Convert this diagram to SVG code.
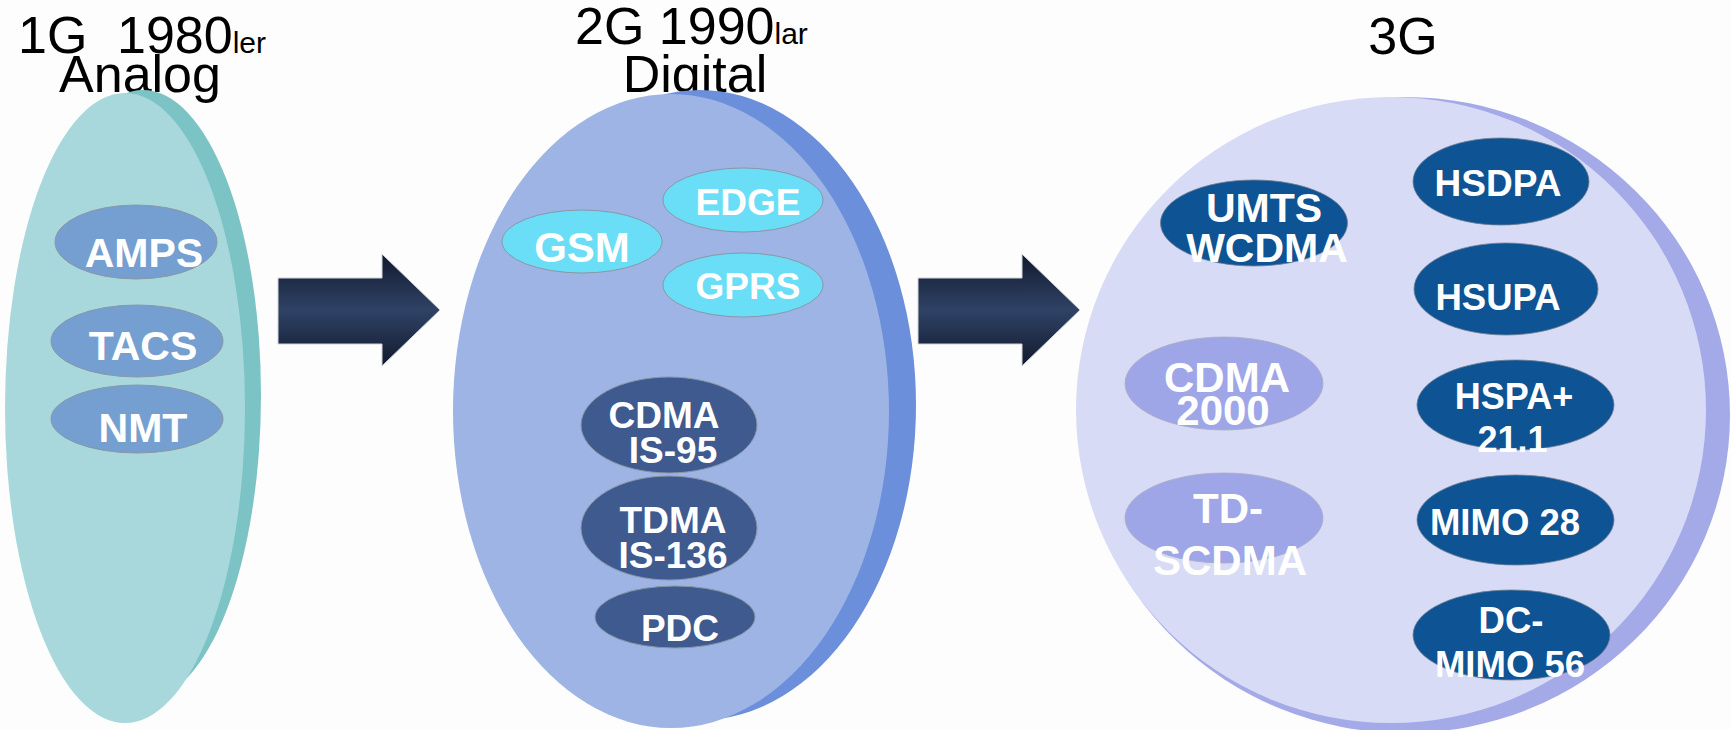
<svg xmlns="http://www.w3.org/2000/svg" width="1731" height="730" viewBox="0 0 1731 730">
  <style>
    .title { font-family: "Liberation Sans", Arial, sans-serif; fill: #000; font-size: 52px; }
    .small { font-size: 30px; }
    .lbl { font-family: "Liberation Sans", Arial, sans-serif; font-weight: bold; fill: #fff; text-anchor: middle; }
    .pill { stroke: #8a97a6; stroke-width: 1; }
    .g1 { fill: #749FD0; }
    .cyan { fill: #6ADDF7; }
    .navy { fill: #3E5A8E; }
    .blue3 { fill: #0E5394; stroke: #6f7f90; stroke-width: 0.8; }
    .lav { fill: #9EA6E8; stroke: #a9acc0; stroke-width: 0.8; }
  </style>
  <defs>
    <linearGradient id="arrowFill" x1="0" y1="0" x2="0" y2="1">
      <stop offset="0" stop-color="#121a2c"/>
      <stop offset="0.5" stop-color="#2f4266"/>
      <stop offset="1" stop-color="#121a2c"/>
    </linearGradient>
  </defs>

  <rect width="1731" height="730" fill="#fdfdfd"/>

  <!-- Generation titles -->
  <text class="title" y="53"><tspan x="18">1G</tspan><tspan x="117">1980</tspan><tspan class="small">ler</tspan></text>
  <text class="title" x="140" y="92" text-anchor="middle">Analog</text>
  <text class="title" y="44"><tspan x="575">2G 1990</tspan><tspan class="small">lar</tspan></text>
  <text class="title" x="695" y="92" text-anchor="middle">Digital</text>
  <text class="title" x="1403" y="54" text-anchor="middle">3G</text>

  <!-- 1G disc -->
  <g id="gen1">
    <ellipse cx="143" cy="395" rx="118" ry="305" fill="#7CC3C6"/>
    <ellipse cx="125" cy="408" rx="120" ry="315" fill="#A8D8DB"/>
    <g id="amps">
      <ellipse class="pill g1" cx="136" cy="242" rx="81" ry="37"/>
      <text class="lbl" x="144" y="267" font-size="41">AMPS</text>
    </g>
    <g id="tacs">
      <ellipse class="pill g1" cx="137" cy="341" rx="86" ry="36"/>
      <text class="lbl" x="143" y="360" font-size="41">TACS</text>
    </g>
    <g id="nmt">
      <ellipse class="pill g1" cx="137" cy="419" rx="86" ry="34"/>
      <text class="lbl" x="143" y="442" font-size="41">NMT</text>
    </g>
  </g>

  <!-- 2G disc -->
  <g id="gen2">
    <ellipse cx="700" cy="405" rx="216" ry="315" fill="#6B8FDA"/>
    <ellipse cx="671" cy="411" rx="218" ry="317" fill="#9DB4E5"/>
    <g id="gsm">
      <ellipse class="pill cyan" cx="582" cy="241.5" rx="80" ry="31.5"/>
      <text class="lbl" x="582" y="262" font-size="42">GSM</text>
    </g>
    <g id="edge">
      <ellipse class="pill cyan" cx="743" cy="200" rx="80" ry="32"/>
      <text class="lbl" x="748" y="215" font-size="37">EDGE</text>
    </g>
    <g id="gprs">
      <ellipse class="pill cyan" cx="743" cy="285" rx="80" ry="32"/>
      <text class="lbl" x="748" y="299" font-size="37">GPRS</text>
    </g>
    <g id="cdma-is95">
      <ellipse class="pill navy" cx="669" cy="425" rx="88" ry="48"/>
      <text class="lbl" font-size="37"><tspan x="664" y="428">CDMA</tspan><tspan x="673" y="463">IS-95</tspan></text>
    </g>
    <g id="tdma-is136">
      <ellipse class="pill navy" cx="669" cy="528" rx="88" ry="52"/>
      <text class="lbl" font-size="37"><tspan x="673" y="533">TDMA</tspan><tspan x="673" y="568">IS-136</tspan></text>
    </g>
    <g id="pdc">
      <ellipse class="pill navy" cx="675" cy="617" rx="80" ry="31"/>
      <text class="lbl" x="680" y="641" font-size="37">PDC</text>
    </g>
  </g>

  <!-- 3G disc -->
  <g id="gen3">
    <ellipse cx="1405" cy="415" rx="325" ry="318" fill="#A4AAE8"/>
    <ellipse cx="1391" cy="410" rx="315" ry="313" fill="#D8DBF5"/>
    <g id="umts">
      <ellipse class="blue3" cx="1254" cy="223" rx="93.5" ry="43"/>
      <text class="lbl" font-size="41"><tspan x="1264" y="222">UMTS</tspan><tspan x="1267" y="262">WCDMA</tspan></text>
    </g>
    <g id="cdma2000">
      <ellipse class="lav" cx="1224" cy="383.5" rx="99" ry="46.5"/>
      <text class="lbl" font-size="42"><tspan x="1227" y="392">CDMA</tspan><tspan x="1223" y="425">2000</tspan></text>
    </g>
    <g id="td-scdma">
      <ellipse class="lav" cx="1224" cy="518" rx="99" ry="45"/>
      <text class="lbl" font-size="42"><tspan x="1228" y="523">TD-</tspan><tspan x="1230" y="575">SCDMA</tspan></text>
    </g>
    <g id="hsdpa">
      <ellipse class="blue3" cx="1501" cy="181.5" rx="88" ry="43.5"/>
      <text class="lbl" x="1498" y="196" font-size="37">HSDPA</text>
    </g>
    <g id="hsupa">
      <ellipse class="blue3" cx="1506" cy="289" rx="92" ry="46"/>
      <text class="lbl" x="1498" y="310" font-size="36.5">HSUPA</text>
    </g>
    <g id="hspa-plus">
      <ellipse class="blue3" cx="1515.5" cy="405" rx="98.5" ry="45"/>
      <text class="lbl" font-size="36"><tspan x="1514" y="409">HSPA+</tspan><tspan x="1512.5" y="452">21.1</tspan></text>
    </g>
    <g id="mimo28">
      <ellipse class="blue3" cx="1515.5" cy="520" rx="98.5" ry="45"/>
      <text class="lbl" x="1505" y="535" font-size="36.5">MIMO 28</text>
    </g>
    <g id="dc-mimo56">
      <ellipse class="blue3" cx="1511.5" cy="635" rx="98.5" ry="45"/>
      <text class="lbl" font-size="36.5"><tspan x="1511" y="633">DC-</tspan><tspan x="1510" y="677">MIMO 56</tspan></text>
    </g>
  </g>

  <!-- Block arrows between generations -->
  <g id="connectors">
    <path d="M278 278 H382 V254 L440 310 L382 366 V344 H278 Z" fill="url(#arrowFill)" stroke="#cfd3db" stroke-width="1"/>
    <path d="M918 278 H1022 V254 L1080 310 L1022 366 V344 H918 Z" fill="url(#arrowFill)" stroke="#cfd3db" stroke-width="1"/>
  </g>
</svg>
